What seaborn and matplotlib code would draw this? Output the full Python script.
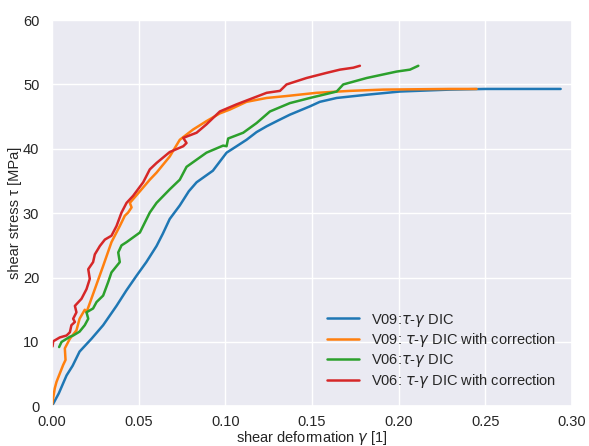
import matplotlib
matplotlib.use("Agg")
import matplotlib.pyplot as plt
import seaborn as sns
import pandas as pd

# ---- data ----
v09_x = [0.0, 0.002, 0.004, 0.0085, 0.012, 0.016, 0.0229, 0.0296, 0.0373, 0.043, 0.0489, 0.0545,
         0.0604, 0.064, 0.068, 0.0738, 0.079, 0.0835, 0.0929, 0.1008, 0.106, 0.1123, 0.1181, 0.1239,
         0.1305, 0.1373, 0.1489, 0.1546, 0.1643, 0.1816, 0.2008, 0.2296, 0.25, 0.27, 0.2935]
v09_y = [0.0, 1.0, 2.0, 4.8, 6.3, 8.5, 10.5, 12.6, 15.6, 18.0, 20.3, 22.4,
         24.9, 26.8, 29.1, 31.2, 33.4, 34.8, 36.6, 39.4, 40.3, 41.4, 42.6, 43.5,
         44.4, 45.3, 46.6, 47.3, 47.9, 48.4, 48.9, 49.2, 49.3, 49.3, 49.3]

v09c_x = [0.0, 0.0017, 0.0027, 0.0046, 0.0065, 0.0079, 0.0075, 0.0104, 0.0142, 0.016, 0.019, 0.02,
          0.0248, 0.0296, 0.0344, 0.0392, 0.0421, 0.044, 0.046, 0.045, 0.0508, 0.0565, 0.0604,
          0.068, 0.0738, 0.0815, 0.0892, 0.0969, 0.1027, 0.1123, 0.1239, 0.1354, 0.1527, 0.1719,
          0.1912, 0.2296, 0.245]
v09c_y = [0.0, 2.8, 3.8, 5.1, 6.4, 7.2, 9.0, 10.5, 11.8, 13.6, 15.0, 14.6,
          18.2, 21.8, 25.5, 28.0, 29.6, 30.1, 30.9, 31.6, 33.4, 35.2, 36.3,
          38.8, 41.4, 43.0, 44.3, 45.5, 46.1, 47.3, 47.9, 48.2, 48.7, 49.0,
          49.2, 49.3, 49.3]

v06_x = [0.0042, 0.0056, 0.0104, 0.0123, 0.016, 0.019, 0.021, 0.02, 0.0238, 0.0258, 0.0296, 0.0325,
         0.0344, 0.0392, 0.0383, 0.0402, 0.0431, 0.0508, 0.0565, 0.0604, 0.068, 0.0738, 0.0777,
         0.0892, 0.0988, 0.1008, 0.1017, 0.1104, 0.1181, 0.1258, 0.1373, 0.1489, 0.1643, 0.1681,
         0.1816, 0.1989, 0.2066, 0.2114]
v06_y = [9.2, 10.0, 10.8, 11.0, 11.6, 12.6, 13.6, 14.6, 15.2, 16.2, 17.2, 19.3,
         20.8, 22.4, 23.9, 25.0, 25.5, 27.0, 30.1, 31.6, 33.7, 35.2, 37.2,
         39.4, 40.5, 40.4, 41.6, 42.5, 44.0, 45.8, 47.1, 47.9, 48.9, 50.0,
         51.0, 52.0, 52.3, 52.9]

v06c_x = [0.0004, 0.0008, 0.0046, 0.0085, 0.0104, 0.0113, 0.0133, 0.0123, 0.0142, 0.0133, 0.0171,
          0.02, 0.0219, 0.021, 0.0238, 0.0248, 0.0277, 0.0306, 0.0344, 0.0373, 0.0402, 0.0431,
          0.0469, 0.0527, 0.0565, 0.0604, 0.068, 0.0758, 0.0777, 0.0758, 0.0835, 0.0892, 0.0969,
          0.1065, 0.1142, 0.1239, 0.1316, 0.1354, 0.1469, 0.1585, 0.1662, 0.1739, 0.1777]
v06c_y = [9.3, 10.1, 10.7, 11.0, 11.5, 12.6, 13.1, 13.6, 14.6, 15.6, 16.7,
          18.2, 19.8, 21.3, 22.4, 23.6, 24.9, 25.9, 26.5, 28.0, 30.1, 31.6,
          32.7, 34.8, 36.8, 37.8, 39.5, 40.4, 40.9, 41.7, 42.5, 43.8, 45.8,
          46.9, 47.7, 48.7, 49.0, 50.0, 51.0, 51.8, 52.3, 52.6, 52.9]

labels = [r"V09:$\tau$-$\gamma$ DIC",
          r"V09: $\tau$-$\gamma$ DIC with correction",
          r"V06:$\tau$-$\gamma$ DIC",
          r"V06: $\tau$-$\gamma$ DIC with correction"]
colors = ["#1f77b4", "#ff7f0e", "#2ca02c", "#d62728"]

frames = []
for lab, xs, ys in zip(labels, [v09_x, v09c_x, v06_x, v06c_x], [v09_y, v09c_y, v06_y, v06c_y]):
    frames.append(pd.DataFrame({"x": xs, "y": ys, "series": lab}))
df = pd.concat(frames, ignore_index=True)

sns.set_theme(style="darkgrid")
plt.rcParams["font.family"] = ["Liberation Sans", "DejaVu Sans"]
plt.rcParams["mathtext.fontset"] = "dejavusans"

fig = plt.figure(figsize=(5.89, 4.46), dpi=100)
ax = fig.add_axes([0.088, 0.089, 0.883, 0.866])

sns.lineplot(data=df, x="x", y="y", hue="series", hue_order=labels, palette=colors,
             sort=False, estimator=None, units="series", linewidth=1.8, ax=ax, legend=True)

ax.set_xlim(0, 0.30)
ax.set_ylim(0, 60)
ax.set_xticks([0.0, 0.05, 0.10, 0.15, 0.20, 0.25, 0.30])
ax.set_xticklabels(["0.00", "0.05", "0.10", "0.15", "0.20", "0.25", "0.30"])
ax.set_yticks([0, 10, 20, 30, 40, 50, 60])
ax.tick_params(axis="x", labelsize=10.5, pad=0.5)
ax.tick_params(axis="y", labelsize=10.5, pad=3)
ax.set_xlabel(r"shear deformation $\gamma$ [1]", fontsize=10.5, labelpad=-0.5)
ax.set_ylabel("shear stress τ [MPa]", fontsize=10.5, labelpad=1)

handles, labs = ax.get_legend_handles_labels()
ax.legend(handles, labs, loc="lower right", frameon=False, fontsize=10.5,
          handlelength=2.2, labelspacing=0.2, borderaxespad=0.7)

fig.savefig("out.png", dpi=100)
